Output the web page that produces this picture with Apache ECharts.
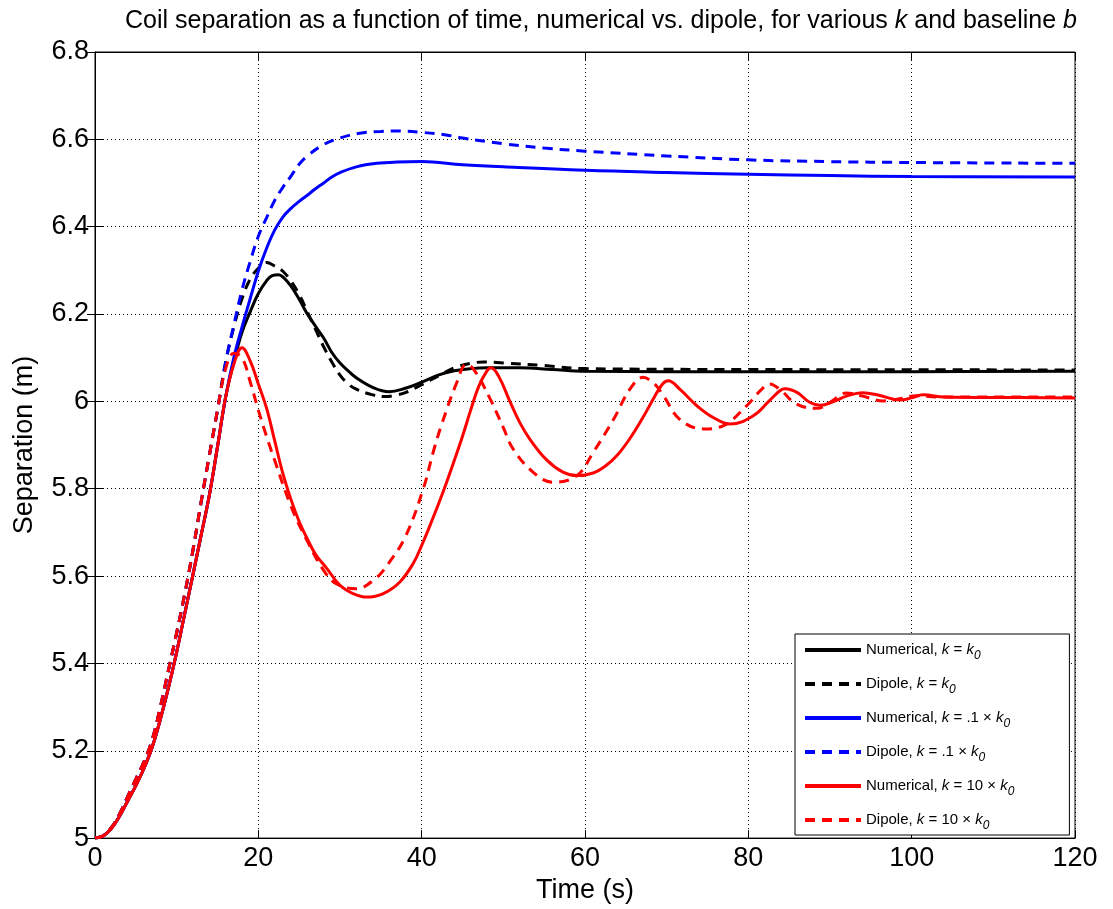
<!DOCTYPE html>
<html>
<head>
<meta charset="utf-8">
<script src="https://cdn.jsdelivr.net/npm/echarts@6/dist/echarts.min.js"></script>
<style>
  html, body { margin: 0; padding: 0; background: #fff; }
  #main { width: 1113px; height: 909px; }
</style>
</head>
<body>
<div id="main"></div>
<script>
// shared early rise (all runs look nearly identical until ~15 s)
var riseSolid = [[0,5.0],[1,5.005],[2,5.022],[3,5.05],[4,5.085],[5,5.12],[6,5.16],[7,5.208],[8,5.272],
  [9,5.345],[10,5.426],[11,5.515],[12,5.604],[13,5.694],[14,5.785],[15,5.896],[16,6.01]];
var riseDipole = [[0,5.0],[1,5.005],[2,5.024],[3,5.055],[4,5.095],[5,5.135],[6,5.175],[7,5.225],[8,5.3],
  [9,5.385],[10,5.47],[11,5.56],[12,5.66],[13,5.77],[14,5.876],[15,5.98]];

// k = k0
var numK0 = [[17,6.09],[18,6.158],[19,6.205],[20,6.247],[21,6.276],[21.7,6.288],[22.5,6.29],[23,6.285],
  [24,6.264],[25,6.234],[26,6.2],[27,6.172],[28,6.145],[29,6.112],[30,6.088],[31,6.07],[32,6.054],
  [34,6.032],[36,6.022],[38,6.03],[40,6.044],[42,6.06],[44,6.07],[46,6.075],[48,6.077],[52,6.077],
  [56,6.073],[60,6.069],[80,6.068],[100,6.068],[120,6.069]];
var dipK0 = [[16,6.09],[17,6.17],[18,6.235],[19,6.28],[20,6.305],[21,6.318],[22,6.31],[23,6.298],
  [24,6.275],[25,6.245],[26,6.205],[27,6.165],[28,6.125],[29,6.09],[30,6.06],[31,6.04],[32,6.028],
  [34,6.015],[35.5,6.011],[37,6.015],[38,6.02],[40,6.038],[42,6.058],[44,6.077],[46,6.087],[47.5,6.09],
  [50,6.088],[55,6.082],[60,6.075],[80,6.073],[120,6.072]];

// k = .1 x k0
var numK01 = [[17,6.1],[18,6.17],[19,6.235],[20,6.298],[21,6.35],[22,6.392],[23,6.422],[24,6.442],
  [25,6.458],[26,6.472],[27,6.487],[28,6.5],[29,6.514],[30,6.524],[32,6.537],[34.5,6.545],[37,6.548],
  [40,6.549],[45,6.542],[50,6.537],[60,6.529],[70,6.524],[80,6.52],[90,6.517],[100,6.515],[120,6.514]];
var dipK01 = [[16,6.09],[17,6.175],[18,6.255],[19,6.32],[20,6.378],[21,6.42],[22,6.46],[23,6.49],
  [24,6.516],[25,6.543],[26,6.562],[28,6.588],[30,6.603],[32.4,6.614],[35,6.618],[37.3,6.619],
  [40,6.616],[43,6.61],[45,6.603],[50,6.59],[55,6.58],[60,6.573],[70,6.562],[80,6.553],[90,6.549],
  [100,6.547],[120,6.545]];

// k = 10 x k0
var numK10 = [[17,6.085],[18,6.123],[19,6.093],[20,6.04],[21,5.985],[22,5.91],[23,5.835],[24,5.775],
  [25,5.725],[26,5.685],[27,5.65],[28.4,5.617],[30,5.579],[31.6,5.56],[33.3,5.552],[35.3,5.56],
  [37.3,5.586],[39,5.63],[40,5.67],[41,5.715],[42,5.762],[43,5.812],[44,5.865],[45,5.92],[46,5.98],
  [47,6.035],[48,6.07],[48.5,6.077],[49.5,6.055],[50.8,6.0],[52,5.952],[53.3,5.912],[55.3,5.866],
  [57.3,5.838],[59,5.83],[61,5.836],[62.5,5.852],[64,5.878],[65.5,5.915],[67,5.96],[68.5,6.01],
  [69.5,6.04],[70.2,6.047],[71.6,6.028],[73.7,5.99],[75.7,5.963],[77.8,5.948],[80.6,5.967],[82.5,6.0],
  [83.9,6.025],[84.5,6.029],[86,6.02],[87.5,5.998],[88.8,5.991],[90.5,6.0],[92,6.012],[94,6.02],
  [96,6.014],[98.6,6.003],[100,6.008],[101.4,6.015],[104,6.01],[110,6.009],[120,6.008]];
var dipK10 = [[16,6.075],[17,6.11],[18,6.1],[19,6.045],[20,5.98],[21,5.92],[22,5.865],[24,5.76],
  [26,5.68],[28,5.613],[29.6,5.582],[32,5.571],[34.3,5.594],[35.9,5.628],[38,5.69],[40.2,5.8],
  [41.4,5.883],[42.5,5.95],[44.3,6.043],[45.5,6.085],[46.5,6.07],[48.4,6.005],[50,5.94],[51.2,5.891],
  [53.7,5.837],[56.1,5.815],[59,5.83],[61,5.883],[63.5,5.959],[65.5,6.028],[67.1,6.055],[68.5,6.04],
  [69.6,6.013],[71.6,5.959],[74.5,5.937],[76.9,5.944],[79.8,5.99],[81.5,6.025],[82.6,6.04],[84,6.025],
  [85.9,5.994],[88.4,5.984],[90,5.998],[92,6.019],[94,6.012],[96.5,6.001],[98.5,6.006],[100.6,6.013],
  [103,6.01],[110,6.01],[120,6.01]];

var names = ['Numerical, k = k0', 'Dipole, k = k0', 'Numerical, k = .1 x k0',
             'Dipole, k = .1 x k0', 'Numerical, k = 10 x k0', 'Dipole, k = 10 x k0'];
var legendText = [
  'Numerical, {i|k} = {i|k}{s|0}',
  'Dipole, {i|k} = {i|k}{s|0}',
  'Numerical, {i|k} = .1 \u00d7 {i|k}{s|0}',
  'Dipole, {i|k} = .1 \u00d7 {i|k}{s|0}',
  'Numerical, {i|k} = 10 \u00d7 {i|k}{s|0}',
  'Dipole, {i|k} = 10 \u00d7 {i|k}{s|0}'
];
var colors = ['#000000', '#000000', '#0000ff', '#0000ff', '#ff0000', '#ff0000'];
var curves = [riseSolid.concat(numK0), riseDipole.concat(dipK0),
              riseSolid.concat(numK01), riseDipole.concat(dipK01),
              riseSolid.concat(numK10), riseDipole.concat(dipK10)];

var font = '"Liberation Sans", Arial, Helvetica, sans-serif';
var chart = echarts.init(document.getElementById('main'));

var series = curves.map(function (d, i) {
  return {
    name: names[i],
    type: 'line',
    data: d,
    symbol: 'none',
    smooth: 0.4,
    color: colors[i],
    lineStyle: { width: 3, color: colors[i], type: i % 2 ? [10, 7] : 'solid' },
    z: 3 + i
  };
});

var gridLine = { show: true, lineStyle: { color: '#000', width: 1, type: [1, 3] } };

var option = {
  animation: false,
  backgroundColor: '#fff',
  title: {
    text: 'Coil separation as a function of time, numerical vs. dipole, for various {i|k} and baseline {i|b}',
    left: 120, top: 4,
    textStyle: {
      fontFamily: font, fontSize: 25, fontWeight: 'normal', color: '#000',
      rich: { i: { fontFamily: font, fontSize: 25, fontStyle: 'italic', color: '#000' } }
    }
  },
  grid: { left: 95, right: 38, top: 52, bottom: 69, show: true, borderColor: '#000', borderWidth: 1 },
  xAxis: [{
    type: 'value', min: 0, max: 120, interval: 20,
    name: 'Time (s)', nameLocation: 'middle', nameGap: 35,
    nameTextStyle: { fontFamily: font, fontSize: 27, color: '#000' },
    axisLine: { show: true, lineStyle: { color: '#000', width: 1 } },
    axisTick: { show: true, inside: true, length: 8, lineStyle: { color: '#000' } },
    axisLabel: { fontFamily: font, fontSize: 27, color: '#000', margin: 7 },
    splitLine: gridLine
  }, {
    type: 'value', min: 0, max: 120, interval: 20, position: 'top',
    axisLine: { show: true, lineStyle: { color: '#000' } },
    axisTick: { show: true, inside: true, length: 8, lineStyle: { color: '#000' } },
    axisLabel: { show: false }, splitLine: { show: false }
  }],
  yAxis: [{
    type: 'value', min: 5, max: 6.8, interval: 0.2,
    name: 'Separation (m)', nameLocation: 'middle', nameGap: 57, nameRotate: 90,
    nameTextStyle: { fontFamily: font, fontSize: 27, color: '#000' },
    axisLine: { show: true, lineStyle: { color: '#000', width: 1 } },
    axisTick: { show: true, inside: true, length: 8, lineStyle: { color: '#000' } },
    axisLabel: {
      fontFamily: font, fontSize: 27, color: '#000', margin: 6,
      formatter: function (v) { return String(+v.toFixed(1)); }
    },
    splitLine: gridLine
  }, {
    type: 'value', min: 5, max: 6.8, interval: 0.2, position: 'right',
    axisLine: { show: true, lineStyle: { color: '#000' } },
    axisTick: { show: true, inside: true, length: 8, lineStyle: { color: '#000' } },
    axisLabel: { show: false }, splitLine: { show: false }
  }],
  legend: {
    data: names,
    orient: 'vertical',
    left: 795, top: 634,
    padding: [8, 55, 3, 8],
    itemWidth: 56, itemHeight: 14, itemGap: 14,
    backgroundColor: '#fff', borderColor: '#000', borderWidth: 1,
    itemStyle: { opacity: 0 },
    lineStyle: { width: 4 },
    formatter: function (n) { return legendText[names.indexOf(n)]; },
    textStyle: {
      fontFamily: font, fontSize: 15, color: '#000', verticalAlign: 'top', lineHeight: 16,
      rich: {
        i: { fontFamily: font, fontSize: 15, fontStyle: 'italic', color: '#000', verticalAlign: 'top', lineHeight: 16 },
        s: { fontFamily: font, fontSize: 12, fontStyle: 'italic', color: '#000', verticalAlign: 'top', lineHeight: 12, padding: [8, 0, 0, 0] }
      }
    }
  },
  series: series
};

chart.setOption(option);
</script>
</body>
</html>
